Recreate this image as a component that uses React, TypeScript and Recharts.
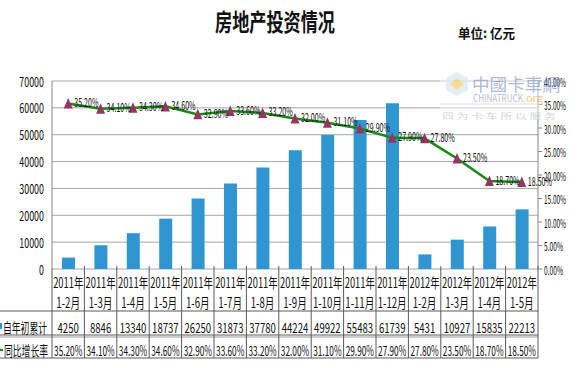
import { ComposedChart, Bar, Line, XAxis, YAxis, CartesianGrid, LabelList } from "recharts";

const years = [
  "2011年", "2011年", "2011年", "2011年", "2011年", "2011年", "2011年", "2011年",
  "2011年", "2011年", "2011年", "2012年", "2012年", "2012年", "2012年",
];
const months = [
  "1-2月", "1-3月", "1-4月", "1-5月", "1-6月", "1-7月", "1-8月", "1-9月",
  "1-10月", "1-11月", "1-12月", "1-2月", "1-3月", "1-4月", "1-5月",
];
// 自年初累计 (亿元)
const invest = [4250, 8846, 13340, 18737, 26250, 31873, 37780, 44224, 49922, 55483, 61739, 5431, 10927, 15835, 22213];
// 同比增长率 (%)
const growth = [35.2, 34.1, 34.3, 34.6, 32.9, 33.6, 33.2, 32.0, 31.1, 29.9, 27.9, 27.8, 23.5, 18.7, 18.5];
const leftTicks = [0, 10000, 20000, 30000, 40000, 50000, 60000, 70000];
const rightTicks = [0, 5, 10, 15, 20, 25, 30, 35, 40];

const data = months.map((m, i) => ({ key: i, year: years[i], month: m, invest: invest[i], growth: growth[i] }));

const FONT = '"Noto Sans CJK SC", "Noto Sans", sans-serif';
const COL_W = 486 / 15;
const PLOT_L = 52;
const PLOT_R = 538;
const LINE_C = "#5a5a5a";

// rough width of the narrow font used in the picture
const textLen = (s: string, fs: number) => {
  let w = 0;
  for (const ch of s) {
    if (ch.charCodeAt(0) > 255) w += fs * 0.63;
    else if (ch === ".") w += fs * 0.15;
    else if (ch === "%") w += fs * 0.35;
    else if (ch === "-") w += fs * 0.3;
    else if (ch === ":" || ch === " ") w += fs * 0.2;
    else w += fs * 0.38;
  }
  return w;
};

type TxtProps = {
  x: number;
  y: number;
  text: string;
  fs: number;
  anchor?: "start" | "middle" | "end";
  bold?: boolean;
  fill?: string;
  len?: number;
};

const Txt = ({ x, y, text, fs, anchor = "start", bold, fill = "#111", len }: TxtProps) => {
  const w = len ?? textLen(text, fs);
  const sx = anchor === "middle" ? x - w / 2 : anchor === "end" ? x - w : x;
  return (
    <text
      x={sx}
      y={y}
      fontSize={fs}
      fontFamily={FONT}
      fontWeight={bold ? 700 : 400}
      fill={fill}
      dominantBaseline="central"
      textLength={w}
      lengthAdjust="spacingAndGlyphs"
    >
      {text}
    </text>
  );
};

const fmtPct = (v: number) => v.toFixed(2) + "%";

const TableTick = (props: any) => {
  const { x, y, index } = props;
  const d = data[index];
  if (!d) return null;
  const top = y;
  const l = x - COL_W / 2;
  const r = x + COL_W / 2;
  return (
    <g>
      {index === 0 && (
        <g>
          <line x1={0} x2={PLOT_R} y1={top + 42} y2={top + 42} stroke={LINE_C} />
          <line x1={0} x2={PLOT_R} y1={top + 66} y2={top + 66} stroke={LINE_C} />
          <line x1={0} x2={PLOT_R} y1={top + 68} y2={top + 68} stroke="#9a9a9a" />
          <line x1={0} x2={PLOT_R} y1={top + 89} y2={top + 89} stroke={LINE_C} />
          <line x1={l} x2={l} y1={top} y2={top + 89} stroke={LINE_C} />
          <rect x={-4} y={top + 54} width={6} height={6} fill="#2F96D1" />
          <line x1={-2} x2={3} y1={top + 81} y2={top + 81} stroke="#138A13" strokeWidth={2} />
          <Txt x={3} y={top + 58} text="自年初累计" fs={14} len={44} />
          <Txt x={4} y={top + 81} text="同比增长率" fs={14} len={44} />
        </g>
      )}
      <line x1={r} x2={r} y1={top - 3} y2={top + 89} stroke={LINE_C} />
      <Txt x={x} y={top + 13} text={d.year} fs={14} anchor="middle" />
      <Txt x={x} y={top + 33} text={d.month} fs={14} anchor="middle" />
      <Txt x={x} y={top + 58} text={String(d.invest)} fs={14} anchor="middle" />
      <Txt x={x} y={top + 81} text={fmtPct(d.growth)} fs={14} anchor="middle" />
    </g>
  );
};

const LeftTick = (props: any) => (
  <Txt x={props.x} y={props.y} text={String(props.payload.value)} fs={13} anchor="end" />
);

const RightTick = (props: any) => (
  <Txt x={props.x} y={props.y} text={fmtPct(props.payload.value)} fs={12} len={props.payload.value < 10 ? 19 : 22} />
);

const Triangle = (props: any) => {
  const { cx, cy, index } = props;
  if (cx == null || cy == null) return null;
  return <path key={index} d={`M${cx},${cy - 5.5} L${cx + 4.5},${cy + 5} L${cx - 4.5},${cy + 5} Z`} fill="#993366" />;
};

const RateLabel = (props: any) => {
  const { x, y, value } = props;
  return <Txt x={x + 6} y={y - 2} text={fmtPct(Number(value))} fs={12} />;
};

const App = () => {
  return (
    <div style={{ position: "absolute", left: 0, top: 0, width: 580, height: 368, background: "#fff" }}>
      <ComposedChart width={580} height={368} data={data} margin={{ top: 81, right: 0, bottom: 0, left: 0 }}>
        <CartesianGrid yAxisId="left" vertical={false} stroke="#a6a6a6" />
        <XAxis
          dataKey="key"
          height={99}
          interval={0}
          tickSize={0}
          tickMargin={0}
          axisLine={false}
          tick={(p: any) => <TableTick {...p} />}
        />
        <YAxis
          yAxisId="left"
          width={PLOT_L}
          domain={[0, 70000]}
          ticks={leftTicks}
          axisLine={{ stroke: "#868686" }}
          tickLine={false}
          tick={(p: any) => <LeftTick {...p} />}
        />
        <YAxis
          yAxisId="right"
          orientation="right"
          width={580 - PLOT_R}
          domain={[0, 40]}
          ticks={rightTicks}
          tickSize={4}
          tickMargin={2}
          axisLine={{ stroke: "#868686" }}
          tickLine={{ stroke: "#868686" }}
          tick={(p: any) => <RightTick {...p} />}
        />
        <Bar yAxisId="left" dataKey="invest" fill="#2F96D1" barSize={13} isAnimationActive={false} />
        <Line
          yAxisId="right"
          type="linear"
          dataKey="growth"
          stroke="#138A13"
          strokeWidth={2.5}
          dot={(p: any) => <Triangle {...p} />}
          activeDot={false}
          isAnimationActive={false}
        >
          <LabelList dataKey="growth" content={(p: any) => <RateLabel {...p} />} />
        </Line>
      </ComposedChart>
      <svg width={580} height={368} style={{ position: "absolute", left: 0, top: 0, pointerEvents: "none" }}>
        <Txt x={275} y={20} text="房地产投资情况" fs={24} anchor="middle" bold len={120} />
        <Txt x={458} y={32} text="单位: 亿元" fs={13} bold len={57} />
        {/* watermark */}
        <rect x={440} y={70} width={100} height={50} fill="#fff" opacity={0.45} />
        <g opacity={0.7}>
          <path d="M457,72 L468,78 L468,90 L457,96 L446,90 L446,78 Z" fill="#dbe7f3" />
          <path d="M457,78 L464,84 L457,90 L450,84 Z" fill="#f3cf6a" />
          <Txt x={472} y={83} text="中國卡車網" fs={17} len={88} fill="#8d9cc6" />
          <Txt x={473} y={97} text="CHINATRUCK" fs={11} len={50} fill="#9aa8b8" />
          <Txt x={523} y={97} text=".org" fs={10} len={20} fill="#f0b050" />
          <line x1={440} x2={540} y1={104} y2={104} stroke="#d0d4d8" />
          <Txt x={442} y={115} text="四 为 卡 车 所 以 服 务" fs={8} len={114} fill="#c0c6cc" />
        </g>
      </svg>
    </div>
  );
};

export default App;
